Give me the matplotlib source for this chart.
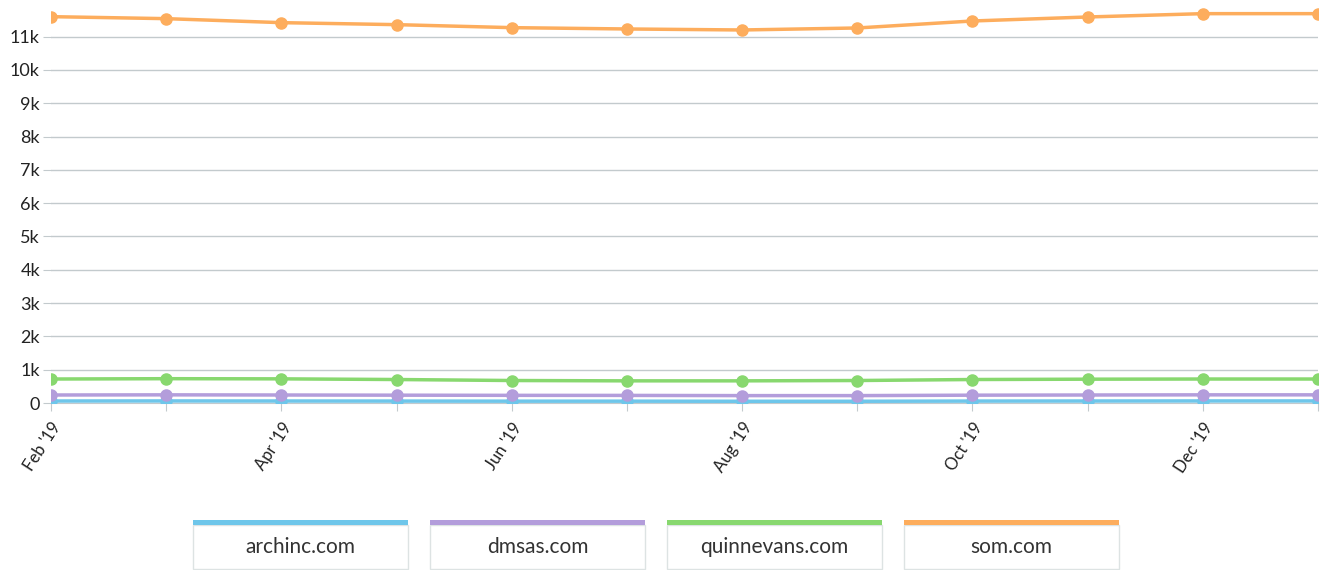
import matplotlib.pyplot as plt
import matplotlib.patches as mpatches
from matplotlib.ticker import FuncFormatter, FixedLocator

plt.rcParams['font.family'] = ['Lato', 'DejaVu Sans']

# 資料
months = ["Feb '19", "Mar '19", "Apr '19", "May '19", "Jun '19", "Jul '19",
          "Aug '19", "Sep '19", "Oct '19", "Nov '19", "Dec '19", "Jan '20"]
archinc = [60, 62, 60, 58, 55, 55, 52, 52, 58, 60, 62, 62]
dmsas = [240, 245, 240, 235, 230, 228, 222, 222, 235, 240, 245, 245]
quinnevans = [720, 730, 725, 705, 675, 665, 665, 675, 705, 715, 720, 720]
som = [11600, 11540, 11420, 11360, 11270, 11230, 11200, 11260, 11470, 11590, 11690, 11690]

names = ['archinc.com', 'dmsas.com', 'quinnevans.com', 'som.com']
colors = ['#6ec6ea', '#b39ddb', '#88d86f', '#fdad5d']
series = [archinc, dmsas, quinnevans, som]

fig = plt.figure(figsize=(13.24, 5.70), dpi=100)
ax = fig.add_axes([51 / 1324, 1 - 403 / 570, (1318 - 51) / 1324, 403 / 570])

x = list(range(len(months)))
for vals, c in zip(series, colors):
    ax.plot(x, vals, color=c, linewidth=2.5, marker='o', markersize=8, zorder=3)

ax.set_xlim(0, len(months) - 1)
ax.set_ylim(0, 12100)

# 格線與座標軸
ax.yaxis.set_major_locator(FixedLocator(range(0, 12000, 1000)))
ax.yaxis.set_major_formatter(FuncFormatter(lambda v, p: '0' if v == 0 else f'{int(v / 1000)}k'))
ax.grid(axis='y', color='#c3cacd', linewidth=1)
ax.set_axisbelow(True)
for s in ['top', 'right', 'left']:
    ax.spines[s].set_visible(False)
ax.spines['bottom'].set_color('#c3cacd')

ax.set_xticks(x)
ax.set_xticklabels([m if i % 2 == 0 else '' for i, m in enumerate(months)],
                   rotation=57, ha='right', va='top', rotation_mode='anchor')
ax.tick_params(axis='x', length=6, color='#c3cacd', labelsize=12, labelcolor='#222222', pad=6)
ax.tick_params(axis='y', length=6, color='#c3cacd', labelsize=13, labelcolor='#222222', pad=2)

# 圖例方塊
box_x = [193, 430, 667, 904]
bw, bh = 215, 44
for bx, name, c in zip(box_x, names, colors):
    fx, fy = bx / 1324, (570 - 569) / 570
    fig.patches.append(mpatches.Rectangle((fx, fy), bw / 1324, bh / 570,
                                          transform=fig.transFigure, facecolor='white',
                                          edgecolor='#dde3e3', linewidth=1))
    fig.patches.append(mpatches.Rectangle((fx, fy + bh / 570), bw / 1324, 5 / 570,
                                          transform=fig.transFigure, facecolor=c,
                                          edgecolor='none'))
    fig.text(fx + bw / 2 / 1324, (570 - 547) / 570, name, ha='center', va='center',
             fontsize=15, color='#333333')

fig.savefig('out.png', dpi=100)
